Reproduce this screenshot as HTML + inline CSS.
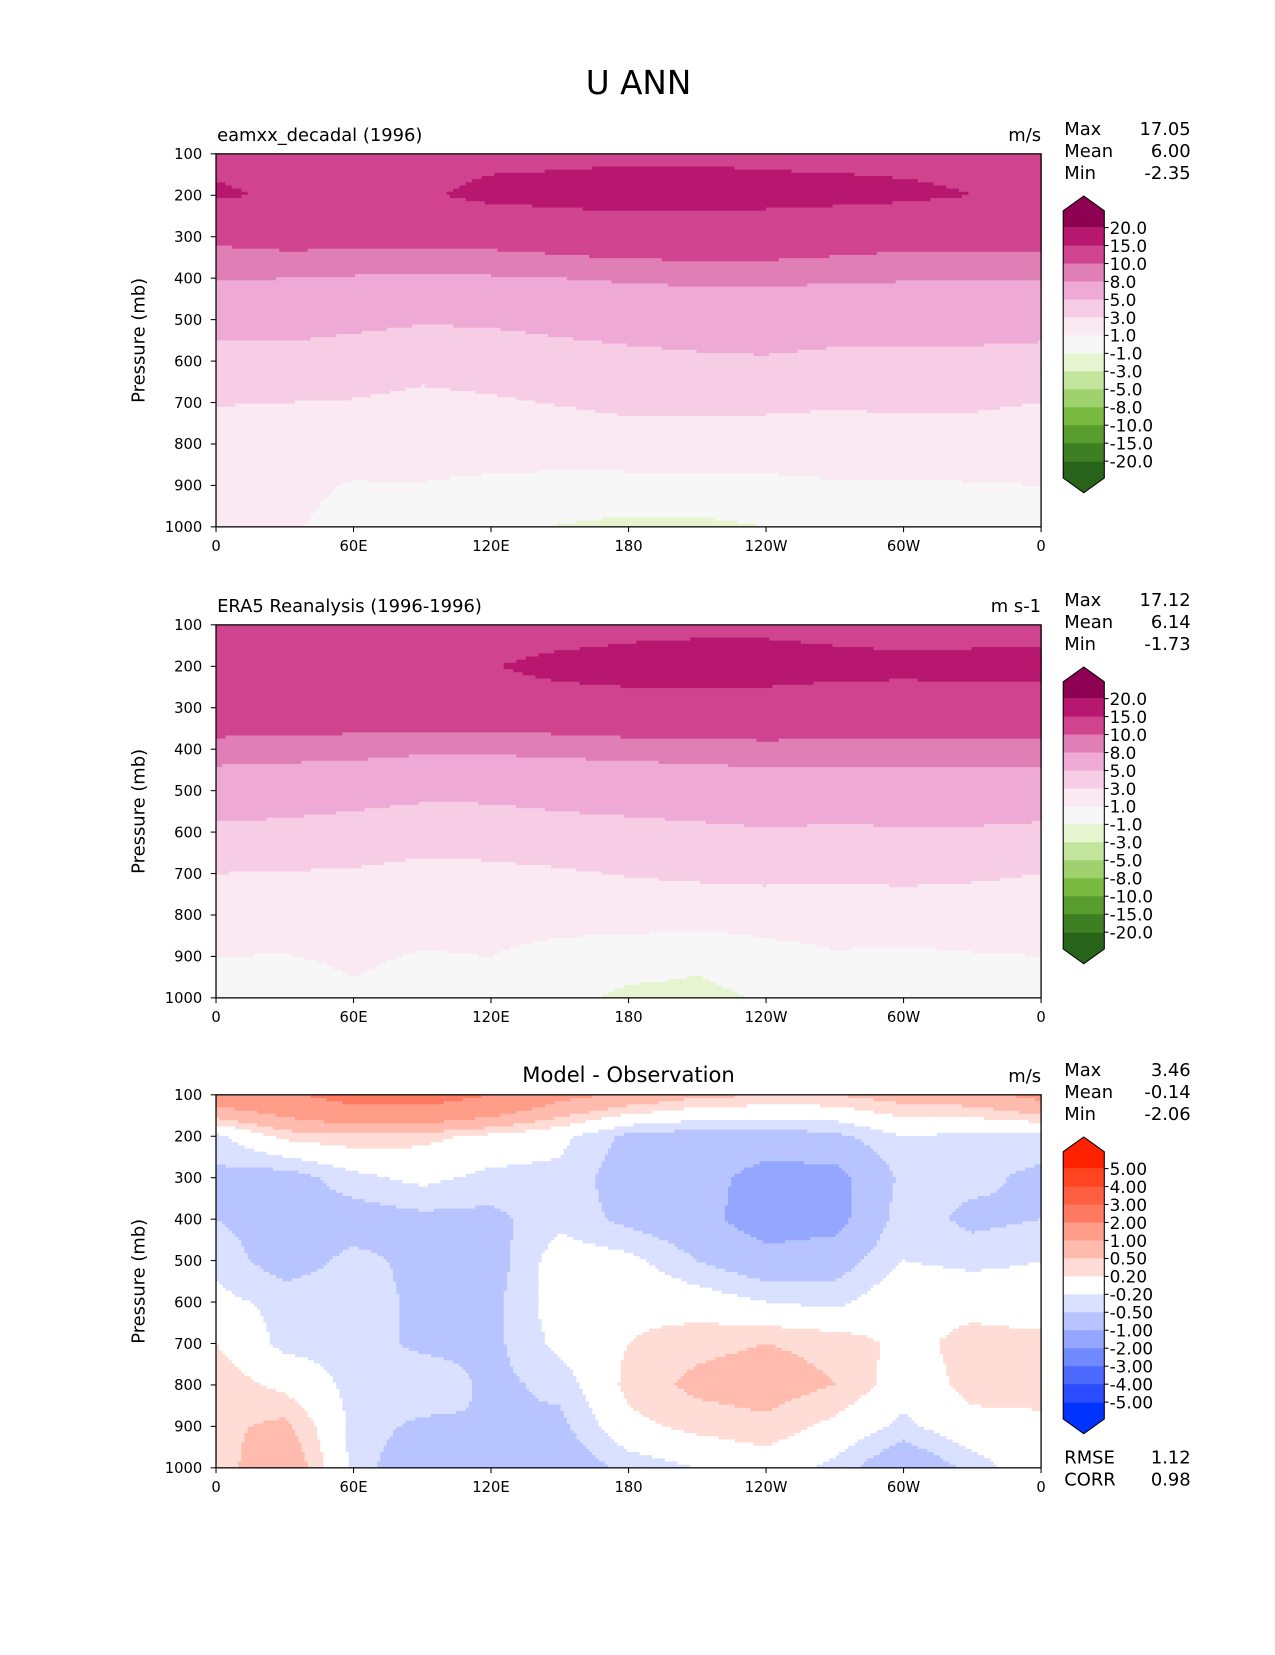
<!DOCTYPE html>
<html><head><meta charset="utf-8"><style>
html,body{margin:0;padding:0;background:#fff;overflow:hidden;}
#root{position:absolute;left:0;top:0;width:1210px;height:1566px;transform-origin:0 0;transform:scale(1.05372);}
svg{font-family:"DejaVu Sans","Liberation Sans",sans-serif;}
</style></head><body>
<div id="root">
<svg id="svg" width="1210" height="1566" xmlns="http://www.w3.org/2000/svg">
<text x="606" y="89" font-size="31" text-anchor="middle">U ANN</text>
</svg>
</div>
<script>
// ---- data ----
const lons = [0,30,60,90,120,150,180,210,240,270,300,330,360];
const pressures = [100,200,300,400,500,600,700,800,900,1000];
const modelU = [
[14,14,13.5,13.5,14,14,14.2,14.2,14,14,13.8,13.8,14],
[15.5,14.5,14,14.5,16,16.5,17,17,16.5,16.2,15.8,15,15],
[10.5,11,11,11,11,11.5,12,12,12,11.5,11,11,11],
[8.2,8.0,7.8,7.6,7.8,8,8.3,8.5,8.5,8.3,8.2,8.2,8.2],
[5.8,5.8,5.5,5.2,5.3,5.6,5.8,6,6.2,6,5.8,5.7,5.8],
[4.2,4.3,4,3.6,3.8,4.2,4.5,4.7,4.8,4.5,4.6,4.6,4.3],
[3.1,3,2.9,2.6,2.8,3.1,3.4,3.5,3.5,3.3,3.4,3.3,3],
[1.9,2,1.8,1.6,1.8,1.9,2.2,2.0,1.8,1.6,1.9,2.0,1.8],
[1.2,1.4,0.9,0.95,0.7,0.5,0.4,0.5,0.7,0.9,0.8,0.9,1.0],
[1.5,1.2,0.5,0.3,0.0,-1.1,-1.5,-1.5,-1.0,0.2,-0.8,0.3,0.8]];
const obsU = [
[12,12,12,12,12,12.5,13.5,14,14,13.5,13,13,13],
[15,14,14,14,14.8,16.5,17,17,17,16.5,16.2,16.5,16.5],
[12,12,12,12,12,12.5,13,13,13,12.5,12.5,12.5,12.5],
[9.2,9.0,8.8,8.4,8.4,8.6,8.8,9,9.2,9.2,9.2,9.2,9.2],
[6.2,6,5.8,5.5,5.5,5.8,6,6.2,6.5,6.3,6.3,6.3,6.2],
[4.6,4.5,4.2,3.8,3.9,4.2,4.4,4.6,4.8,4.7,4.8,4.8,4.6],
[3,2.9,2.8,2.5,2.6,2.8,3.1,3.3,3.5,3.4,3.5,3.3,3.0],
[1.9,1.9,1.7,1.5,1.6,1.6,1.8,1.9,1.8,1.6,1.9,1.9,1.8],
[1.0,0.95,1.2,0.9,1.0,0.5,0.1,-0.5,0.4,0.9,0.7,0.9,1.0],
[0.6,0.3,0.8,0.5,0.2,-0.4,-1.5,-1.6,-0.8,0.2,0.0,0.3,0.5]];
const diffU = [
[1.5,1.8,2.5,2.6,2.0,1.2,0.9,0.6,0.5,0.5,0.7,0.8,1.2],
[-0.3,0.3,0.4,0.3,0.1,-0.1,-0.6,-0.7,-0.7,-0.6,-0.2,-0.3,-0.3],
[-0.6,-0.7,-0.3,-0.1,-0.3,-0.3,-0.7,-0.8,-1.2,-1.2,-0.4,-0.4,-0.6],
[-0.5,-0.7,-0.7,-0.6,-0.6,-0.3,-0.6,-0.8,-1.3,-1.2,-0.3,-0.6,-0.5],
[-0.3,-0.7,-0.4,-0.6,-0.7,0.0,-0.1,-0.5,-0.8,-0.7,-0.2,-0.3,-0.2],
[-0.1,-0.3,-0.3,-0.6,-0.6,0.0,0.1,0.0,-0.2,-0.3,0.1,0.1,0.0],
[0.2,-0.3,-0.3,-0.6,-0.6,-0.1,0.2,0.4,0.5,0.4,0.1,0.3,0.3],
[0.4,0.1,-0.3,-0.2,-0.6,-0.4,0.3,0.6,0.7,0.5,0.0,0.3,0.35],
[0.4,0.6,-0.3,-0.6,-0.5,-0.6,0.1,0.3,0.4,0.1,-0.3,0.1,0.1],
[0.3,0.9,-0.3,-0.9,-0.6,-0.8,-0.4,-0.2,0.0,-0.3,-0.9,-0.4,0.1]];
const levelsU = [-20,-15,-10,-8,-5,-3,-1,1,3,5,8,10,15,20];
const colorsU = ['#276419','#3d7f22','#5a9d2f','#7bba41','#a0d16f','#c3e49c','#e6f5d0','#f7f7f7','#fae8f2','#f7cde6','#eeaad4','#e07fb5','#d0448f','#b8176f','#8e0152'];
const levelsD = [-5,-4,-3,-2,-1,-0.5,-0.2,0.2,0.5,1,2,3,4,5];
const colorsD = ['#0033ff','#2b4dff','#4d6aff','#7089ff','#94a6ff','#b8c4ff','#dae0ff','#ffffff','#ffdcd5','#ffbbad','#ff9d88','#ff7a60','#ff5e40','#ff4422','#ff2200'];
const yTicks = [100,200,300,400,500,600,700,800,900,1000];
const xTickVals = [0,60,120,180,240,300,360];
const xTickLabels = ['0','60E','120E','180','120W','60W','0'];
const cbLabelsU = ['20.0','15.0','10.0','8.0','5.0','3.0','1.0','-1.0','-3.0','-5.0','-8.0','-10.0','-15.0','-20.0'];
const cbLabelsD = ['5.00','4.00','3.00','2.00','1.00','0.50','0.20','-0.20','-0.50','-1.00','-2.00','-3.00','-4.00','-5.00'];
const stats1 = ['17.05','6.00','-2.35'];
const stats2 = ['17.12','6.14','-1.73'];
const stats3 = ['3.46','-0.14','-2.06'];
const errStats = ['1.12','0.98'];

// ---- drawing ----
const NS='http://www.w3.org/2000/svg';
const svg=document.getElementById('svg');
function mk(tag,attrs,parent){const e=document.createElementNS(NS,tag);for(const k in attrs)e.setAttribute(k,attrs[k]);(parent||svg).appendChild(e);return e;}
const X0=205,X1=988,H=354;
function xs(lon){return X0+(lon/360)*(X1-X0);}
function interp(grid,lon,p){
  let i=Math.min(lons.length-2,Math.floor(lon/30));let fx=(lon-lons[i])/30;
  let j=Math.min(pressures.length-2,Math.floor((p-100)/100));let fy=(p-pressures[j])/100;
  const a=grid[j][i],b=grid[j][i+1],c=grid[j+1][i],d=grid[j+1][i+1];
  return (a*(1-fx)+b*fx)*(1-fy)+(c*(1-fx)+d*fx)*fy;
}
function cidx(v,levels){let k=0;for(const l of levels)if(v>=l)k++;return k;}
function panel(y0,grid,levels,colors,name,cbLabels,stats,title,units,centerTitle){
  const ys=p=>y0+(p-100)/900*H;
  const g=mk('g',{});
  
  
  const NX=261,NY=118,cw=(X1-X0)/NX,ch=H/NY;
  for(let r=0;r<NY;r++){
    const p=100+(r+0.5)/NY*900;
    let start=0,cur=-1;
    for(let c=0;c<=NX;c++){
      let k=-1;
      if(c<NX){k=cidx(interp(grid,(c+0.5)/NX*360,p),levels);}
      if(k!==cur){
        if(cur>=0){const e=mk('rect',{x:(X0+start*cw).toFixed(2),y:(y0+r*ch).toFixed(2),width:((c-start)*cw+0.6).toFixed(2),height:(ch+0.6).toFixed(2),fill:colors[cur]},g);
          
          }
        start=c;cur=k;
      }
    }
  }
  const f=mk('rect',{x:X0,y:y0,width:X1-X0,height:H,fill:'none',stroke:'#000','stroke-width':1.2});
  
  
  yTicks.forEach(t=>{mk('line',{x1:X0-5,x2:X0,y1:ys(t),y2:ys(t),stroke:'#000'});
    const e=mk('text',{x:X0-13,y:ys(t)+5,'font-size':14,'text-anchor':'end'});e.textContent=t;
    
    });
  xTickVals.forEach((t,i)=>{mk('line',{x1:xs(t),x2:xs(t),y1:y0+H,y2:y0+H+5,stroke:'#000'});
    const e=mk('text',{x:xs(t),y:y0+H+23,'font-size':14,'text-anchor':'middle'});e.textContent=xTickLabels[i];
    
    });
  const yl=mk('text',{x:0,y:0,'font-size':17,'text-anchor':'middle',transform:`translate(137,${y0+H/2}) rotate(-90)`});yl.textContent='Pressure (mb)';
  
  
  const t=mk('text',centerTitle?{x:(X0+X1)/2,y:y0-12,'font-size':20,'text-anchor':'middle'}:{x:X0+1,y:y0-12,'font-size':17});t.textContent=title;
  
  
  const u=mk('text',{x:X1,y:y0-12,'font-size':17,'text-anchor':'end'});u.textContent=units;
  
  
  ['Max','Mean','Min'].forEach((s,i)=>{
    const a=mk('text',{x:1010,y:y0-18+i*21,'font-size':17});a.textContent=s;
    
    
    const b=mk('text',{x:1130,y:y0-18+i*21,'font-size':17,'text-anchor':'end'});b.textContent=stats[i];
    
    });
  // colorbar
  const cb=mk('g',{});
  
  
  const L=1009,R=1048,top=y0+70,step=17.05,n=levels.length,bot=top+(n-1)*step;
  mk('polygon',{points:`${L},${top} ${L},${top-16} ${(L+R)/2},${top-30} ${R},${top-16} ${R},${top}`,fill:colors[n]},cb);
  mk('polygon',{points:`${L},${bot} ${L},${bot+16} ${(L+R)/2},${bot+30} ${R},${bot+16} ${R},${bot}`,fill:colors[0]},cb);
  for(let i=0;i<n-1;i++){mk('rect',{x:L,y:top+i*step,width:R-L,height:step+0.5,fill:colors[n-1-i]},cb);}
  mk('polygon',{points:`${L},${top-16} ${(L+R)/2},${top-30} ${R},${top-16} ${R},${bot+16} ${(L+R)/2},${bot+30} ${L},${bot+16}`,fill:'none',stroke:'#000','stroke-width':1},cb);
  cbLabels.forEach((s,i)=>{mk('line',{x1:R,x2:R+4,y1:top+i*step,y2:top+i*step,stroke:'#000'},cb);
    const e=mk('text',{x:R+5,y:top+i*step+6,'font-size':16},cb);e.textContent=s;
    
    });
}
panel(146,modelU,levelsU,colorsU,'model-panel',cbLabelsU,stats1,'eamxx_decadal (1996)','m/s',false);
panel(593,obsU,levelsU,colorsU,'obs-panel',cbLabelsU,stats2,'ERA5 Reanalysis (1996-1996)','m s-1',false);
panel(1039,diffU,levelsD,colorsD,'diff-panel',cbLabelsD,stats3,'Model - Observation','m/s',true);
['RMSE','CORR'].forEach((s,i)=>{
  const a=mk('text',{x:1010,y:1389+i*21,'font-size':17});a.textContent=s;
  
  
  const b=mk('text',{x:1130,y:1389+i*21,'font-size':17,'text-anchor':'end'});b.textContent=errStats[i];
  
  });
</script>
</body></html>
